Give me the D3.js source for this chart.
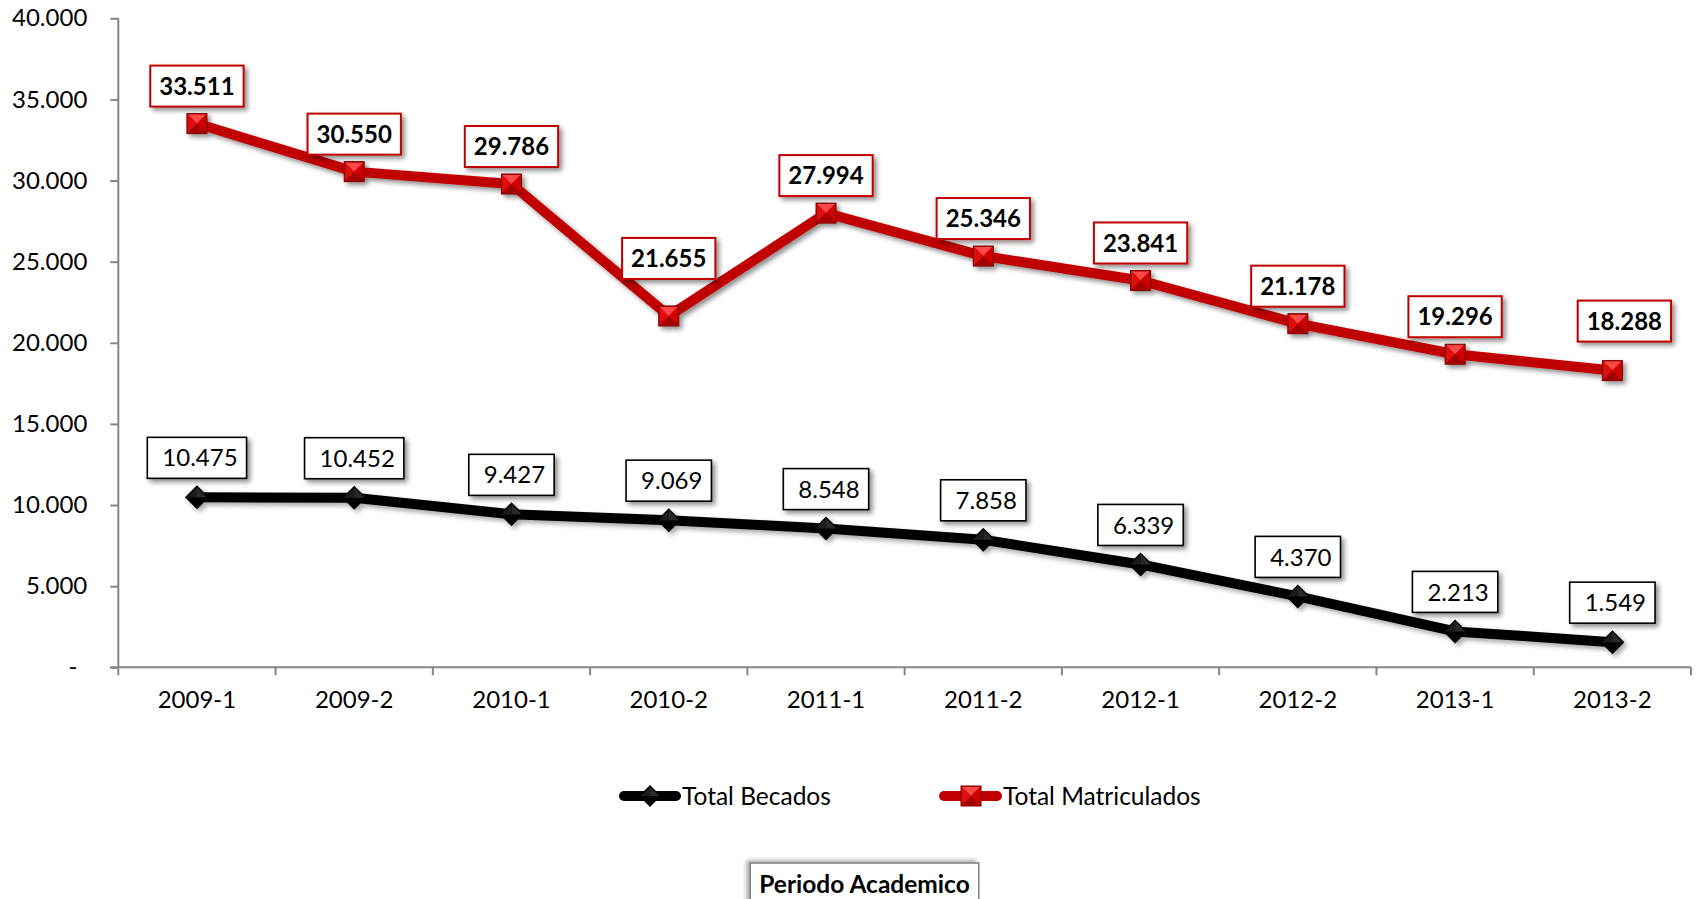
<!DOCTYPE html>
<html><head><meta charset="utf-8">
<script src="https://cdn.jsdelivr.net/npm/d3@7"></script>
<style>
html,body{margin:0;padding:0;background:#fff;}
svg{display:block;font-family:Lato,"Noto Sans",sans-serif;}
</style></head>
<body><svg id="c" width="1696" height="899"></svg>
<script>
const categories = ["2009-1","2009-2","2010-1","2010-2","2011-1","2011-2","2012-1","2012-2","2013-1","2013-2"];
const becados = [10475,10452,9427,9069,8548,7858,6339,4370,2213,1549];
const matriculados = [33511,30550,29786,21655,27994,25346,23841,21178,19296,18288];
const yTicks = [0,5000,10000,15000,20000,25000,30000,35000,40000];
const seriesNames = ["Total Becados","Total Matriculados"];
const axisTitle = "Periodo Academico";
// label placement tweaks (layout only)
const redLabelGap = [17,17,17,37,17,17,17,17,17,29];
const redLabelDx = [0,0,0,0,0,0,0,0,0,12];
const blackLabelGap = 19;

const loc = d3.formatLocale({decimal:",",thousands:".",grouping:[3],currency:["",""]});
const fmt = v => v === 0 ? "-" : loc.format(",d")(v);

const svg = d3.select("#c");
const W = 1696, H = 899;
svg.append("rect").attr("width",W).attr("height",H).attr("fill","#fff");

const defs = svg.append("defs");
function shadow(id, dx, dy, sd, op){
  const f = defs.append("filter").attr("id",id).attr("x","-50%").attr("y","-50%").attr("width","200%").attr("height","200%");
  f.append("feGaussianBlur").attr("in","SourceAlpha").attr("stdDeviation",sd);
  f.append("feOffset").attr("dx",dx).attr("dy",dy).attr("result","o");
  f.append("feComponentTransfer").attr("in","o").attr("result","s").append("feFuncA").attr("type","linear").attr("slope",op);
  const m = f.append("feMerge"); m.append("feMergeNode").attr("in","s"); m.append("feMergeNode").attr("in","SourceGraphic");
}
shadow("sh",3,3,2.5,0.45);
shadow("shb",3,3,2.5,0.35);
shadow("shl",-3,-2,2,0.35);

const x = d3.scaleBand().domain(categories).range([118.3,1691]).padding(0);
const y = d3.scaleLinear().domain([0,40000]).range([667.3,18.3]);
const cx = c => x(c) + x.bandwidth()/2;
const FS = 24;

const axisColor = "#868686";
// Y axis
const ya = svg.append("g").attr("transform","translate(118.3,0)")
  .call(d3.axisLeft(y).tickValues(yTicks).tickSize(8).tickPadding(23).tickFormat(fmt));
ya.select(".domain").attr("stroke",axisColor).attr("stroke-width",2).attr("d","M0,18.3V667.3");
ya.selectAll(".tick line").attr("stroke",axisColor).attr("stroke-width",2);
ya.selectAll(".tick text").attr("font-family","Lato").attr("font-size",FS).attr("fill","#000")
  .attr("dx", d => d===0 ? -10 : 0);

// X axis
const xa = svg.append("g").attr("transform","translate(0,667.3)")
  .call(d3.axisBottom(x).tickSize(0).tickPadding(24));
xa.select(".domain").remove();
xa.selectAll(".tick text").attr("font-family","Lato").attr("font-size",FS).attr("fill","#000");
svg.append("line").attr("x1",110).attr("x2",1691).attr("y1",y(0)).attr("y2",y(0)).attr("stroke",axisColor).attr("stroke-width",2);
const bounds = categories.map(c => x(c)).concat([x.range()[1]]);
svg.selectAll("line.xt").data(bounds).enter().append("line").attr("class","xt")
  .attr("x1",d=>d).attr("x2",d=>d).attr("y1",y(0)).attr("y2",y(0)+8)
  .attr("stroke",axisColor).attr("stroke-width",2);

const line = d3.line().x((d,i)=>cx(categories[i])).y(d=>y(d));

// marker shapes
function redSquare(g, s){
  const h = s/2;
  g.append("rect").attr("x",-h).attr("y",-h).attr("width",s).attr("height",s).attr("fill","#c00000").attr("stroke","#7a0000").attr("stroke-width",1);
  g.append("path").attr("d",`M${-h+1},${-h+1}L${h-1},${-h+1}L0,0Z`).attr("fill","#ff4a4a");
  g.append("path").attr("d",`M${-h+1},${-h+1}L0,0L${-h+1},${h-1}Z`).attr("fill","#e01010");
  g.append("path").attr("d",`M${h-1},${-h+1}L0,0L${h-1},${h-1}Z`).attr("fill","#d00000");
  g.append("path").attr("d",`M${-h+1},${h-1}L0,0L${h-1},${h-1}Z`).attr("fill","#a40000");
}
function blackDiamond(g, s){
  const h = s/2;
  g.append("path").attr("d",`M0,${-h}L${h},0L0,${h}L${-h},0Z`).attr("fill","#050505");
  g.append("path").attr("d",`M0,${-h+2}L${h-2},0L0,0Z`).attr("fill","#2a2a2a");
  g.append("path").attr("d",`M0,${-h+2}L${-h+2},0L0,0Z`).attr("fill","#1c1c1c");
}

// Black series
const gb = svg.append("g").attr("filter","url(#shb)");
gb.append("path").datum(becados).attr("d",line).attr("fill","none").attr("stroke","#000").attr("stroke-width",10).attr("stroke-linejoin","round");
becados.forEach((v,i)=>{ const g = gb.append("g").attr("transform",`translate(${cx(categories[i])},${y(v)})`); blackDiamond(g,24); });

// Red series
const gr = svg.append("g").attr("filter","url(#sh)");
gr.append("path").datum(matriculados).attr("d",line).attr("fill","none").attr("stroke","#c00000").attr("stroke-width",10).attr("stroke-linejoin","round");
matriculados.forEach((v,i)=>{ const g = gr.append("g").attr("transform",`translate(${cx(categories[i])},${y(v)})`); redSquare(g,20); });

// Labels
function label(v, i, bold, color, gap, dx, padL, padR, bw){
  const g = svg.append("g");
  const t = g.append("text").text(fmt(v)).attr("font-family","Lato").attr("font-size",FS)
    .attr("font-weight",bold?"bold":"normal").attr("fill","#000");
  const tw = t.node().getComputedTextLength();
  const w = tw + padL + padR, h = 41;
  const px = cx(categories[i]) + dx, py = y(v);
  const bx = px - w/2, by = py - gap - h;
  g.insert("rect","text").attr("x",bx).attr("y",by).attr("width",w).attr("height",h)
    .attr("fill","#fff").attr("stroke",color).attr("stroke-width",bw).attr("filter","url(#sh)");
  t.attr("x",bx+padL).attr("y",by+h/2).attr("dy","0.36em");
}
becados.forEach((v,i)=>label(v,i,false,"#000",blackLabelGap,0,15,9,1.6));
matriculados.forEach((v,i)=>label(v,i,true,"#c00000",redLabelGap[i],redLabelDx[i],9,9,2));

// Legend
const ly = 796, LFS = 24.5;
const lg1 = svg.append("g");
lg1.append("line").attr("x1",624).attr("x2",676).attr("y1",ly).attr("y2",ly).attr("stroke","#000").attr("stroke-width",10).attr("stroke-linecap","round");
blackDiamond(lg1.append("g").attr("transform",`translate(650,${ly})`),22);
lg1.append("text").attr("x",682).attr("y",ly).attr("dy","0.36em").text(seriesNames[0]).attr("font-family","Lato").attr("font-size",LFS);
const lg2 = svg.append("g");
lg2.append("line").attr("x1",944).attr("x2",997).attr("y1",ly).attr("y2",ly).attr("stroke","#c00000").attr("stroke-width",10).attr("stroke-linecap","round");
redSquare(lg2.append("g").attr("transform",`translate(971,${ly})`),20);
lg2.append("text").attr("x",1003).attr("y",ly).attr("dy","0.36em").text(seriesNames[1]).attr("font-family","Lato").attr("font-size",LFS);

// Axis title box
const tg = svg.append("g");
const tt = tg.append("text").text(axisTitle).attr("font-family","Lato").attr("font-size",24.5).attr("font-weight","bold");
const ttw = tt.node().getComputedTextLength();
tg.insert("rect","text").attr("x",864.5-ttw/2-9).attr("y",863).attr("width",ttw+18).attr("height",50)
  .attr("fill","#fff").attr("stroke","#808080").attr("stroke-width",1.5).attr("filter","url(#shl)");
tt.attr("x",864.5).attr("text-anchor","middle").attr("y",893);
</script></body></html>
